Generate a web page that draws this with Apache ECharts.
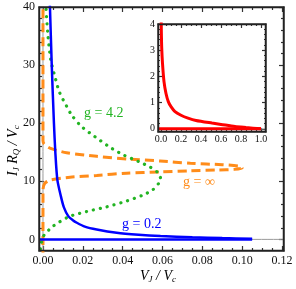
<!DOCTYPE html>
<html><head><meta charset="utf-8">
<script src="https://cdn.jsdelivr.net/npm/echarts@6/dist/echarts.min.js"></script>
<style>html,body{margin:0;padding:0;background:#fff;overflow:hidden}#c{width:296px;height:289px}</style>
</head><body><div id="c"></div>
<script>
// ---- data ----
const xTicks = [0, 0.02, 0.04, 0.06, 0.08, 0.10, 0.12];
const yTicks = [0, 10, 20, 30, 40];
const insetXTicks = [0, 0.2, 0.4, 0.6, 0.8, 1.0];
const insetYTicks = [0, 1, 2, 3, 4];

const blueV = [0.0033,0.0035,0.0044,0.0055,0.0062,0.0072,0.009,0.0105,0.0127,0.015,0.017,0.021,0.027,0.037,0.048,0.059,0.075,0.09,0.105];
const blueI = [42,40,30,20,15,10.3,7.4,5.5,4.0,3.3,2.86,2.2,1.7,1.14,0.8,0.57,0.35,0.22,0.12];
const blueZeroV = [-0.002, 0.105];
const blueZeroI = [0, 0];

const greenV = [0.0012,0.0015,0.0024,0.0039,0.006,0.0082,0.0119,0.0144,0.0194,0.026,0.033,0.040,0.048,0.054,0.058,0.059,0.058,0.055,0.050,0.042,0.032,0.022,0.013,0.0052,0.0002,-0.001,-0.0015];
const greenI = [42,40,35.4,30.9,28,25.4,22.9,21.4,19.4,17.7,16.0,14.6,13.4,12.4,11.4,10.5,9.6,8.5,7.6,6.6,5.6,4.8,3.9,2.3,0.57,-0.9,-2.5];

const orangeV = [0,0,0.0006,0.0035,0.0119,0.027,0.0437,0.0588,0.074,0.09,0.099,0.1,0.096,0.088,0.074,0.0588,0.042,0.027,0.0136,0.0035,0.0008,0,0];
const orangeI = [42,17,16.4,15.7,14.9,14.3,13.8,13.5,13.1,12.85,12.6,12.3,12.05,11.95,11.8,11.6,11.4,11.0,10.7,10.2,9.6,8.5,-2.5];

const redV = [0.0015,0.004,0.007,0.015,0.03,0.05,0.073,0.1,0.14,0.2,0.27,0.35,0.51,0.6,0.74,0.85,1.0];
const redY = [4.2,3.6,3.1,2.5,1.8,1.35,1.04,0.85,0.66,0.52,0.41,0.32,0.22,0.17,0.09,0.05,0.0];
const redZeroV = [-0.03, 1.0];
const redZeroY = [0, 0];

const labels = { g42: 'g = 4.2', ginf: 'g = ∞', g02: 'g = 0.2' };

// ---- helpers ----
const zip = (a, b) => a.map((v, i) => [v, b[i]]);
function minorsOf(majors, n, min, max) {
  const step = (majors[1] - majors[0]) / (n + 1);
  const out = [];
  for (let k = 1; k * step < (max - min) * 2; k++) {}
  const first = Math.ceil((min - majors[0]) / step - 1e-9);
  const last = Math.floor((max - majors[0]) / step + 1e-9);
  for (let k = first; k <= last; k++) {
    const v = +(majors[0] + k * step).toFixed(6);
    const isMajor = majors.some(m => Math.abs(m - v) < step / 10);
    if (!isMajor && v > min && v < max) out.push(v);
  }
  return out;
}
const FONT = 'Liberation Serif';
const TICKC = '#333';
function ax(grid, min, max, pos, vals, len, showLine, label) {
  return {
    type: 'value', gridIndex: grid, min: min, max: max, position: pos,
    splitLine: { show: false },
    axisLine: { show: showLine, onZero: false, lineStyle: { color: TICKC, width: 1.5 } },
    axisTick: { show: true, inside: true, length: len, customValues: vals, lineStyle: { color: TICKC, width: 1.2 } },
    axisLabel: label ? Object.assign({ show: true, customValues: vals, fontFamily: FONT, color: '#111', margin: 4 }, label) : { show: false }
  };
}

const mXmin = -0.002, mXmax = 0.121, mYmin = -2, mYmax = 40;
const iXmin = -0.03, iXmax = 1.05, iYmin = -0.12, iYmax = 4;
const mXminor = minorsOf(xTicks, 3, mXmin, mXmax), mYminor = minorsOf(yTicks, 4, mYmin, mYmax);
const iXminor = minorsOf(insetXTicks, 3, iXmin, iXmax), iYminor = minorsOf(insetYTicks, 4, iYmin, iYmax);

const xAxes = [
  ax(0, mXmin, mXmax, 'bottom', xTicks, 5, true, { fontSize: 12, formatter: v => v.toFixed(2) }),
  ax(0, mXmin, mXmax, 'top', xTicks, 5, true, null),
  ax(1, mXmin, mXmax, 'bottom', mXminor, 3, false, null),
  ax(1, mXmin, mXmax, 'top', mXminor, 3, false, null),
  ax(2, iXmin, iXmax, 'bottom', insetXTicks, 4, true, { fontSize: 10, formatter: v => v.toFixed(1), margin: 2 }),
  ax(2, iXmin, iXmax, 'top', insetXTicks, 4, true, null),
  ax(3, iXmin, iXmax, 'bottom', iXminor, 2, false, null),
  ax(3, iXmin, iXmax, 'top', iXminor, 2, false, null)
];
const yAxes = [
  ax(0, mYmin, mYmax, 'left', yTicks, 5, true, { fontSize: 12, formatter: v => String(v) }),
  ax(0, mYmin, mYmax, 'right', yTicks, 5, true, null),
  ax(1, mYmin, mYmax, 'left', mYminor, 3, false, null),
  ax(1, mYmin, mYmax, 'right', mYminor, 3, false, null),
  ax(2, iYmin, iYmax, 'left', insetYTicks, 4, true, { fontSize: 10, formatter: v => String(v), margin: 3 }),
  ax(2, iYmin, iYmax, 'right', insetYTicks, 4, true, null),
  ax(3, iYmin, iYmax, 'left', iYminor, 2, false, null),
  ax(3, iYmin, iYmax, 'right', iYminor, 2, false, null)
];

const GREEN = '#22b422', ORANGE = '#ff8c1a', BLUE = '#0000ff', RED = '#ff0000';
function ser(data, xi, yi, style, z) {
  return { type: 'line', xAxisIndex: xi, yAxisIndex: yi, data: data, showSymbol: false, symbol: 'none',
    smooth: 0.25, lineStyle: style, z: z || 2, silent: true };
}

const mainRect = { left: 39, top: 7, width: 245, height: 244 };
const insetRect = { left: 158, top: 24, width: 108, height: 108 };
const frameLines = (r, z) => {
  const x0 = r.left + 0.5, y0 = r.top + 0.5, x1 = r.left + r.width - 0.5, y1 = r.top + r.height - 0.5;
  const st = { stroke: '#222', lineWidth: 1.5, lineDash: null };
  return [
    { type: 'polyline', z: z, silent: true, shape: { points: [[x0, y1], [x0, y0], [x1, y0], [x1, y1], [x0, y1]] }, style: st }
  ];
};

const chart = echarts.init(document.getElementById('c'));
chart.setOption({
  animation: false,
  grid: [
    Object.assign({}, mainRect),
    Object.assign({}, mainRect),
    Object.assign({}, insetRect),
    Object.assign({}, insetRect)
  ],
  xAxis: xAxes,
  yAxis: yAxes,
  series: [
    ser([[mXmin, 0], [mXmax, 0]], 0, 0, { color: '#999', width: 1 }, 1),
    ser([[0, mYmin], [0, mYmax]], 0, 0, { color: '#999', width: 1 }, 1),
    ser(zip(orangeV, orangeI), 0, 0, { color: ORANGE, width: 3, type: [9, 5] }, 3),
    ser(zip(greenV, greenI), 0, 0, { color: GREEN, width: 3.2, type: [0.1, 7], cap: 'round' }, 3),
    ser(zip(blueZeroV, blueZeroI), 0, 0, { color: BLUE, width: 2.5 }, 4),
    ser(zip(blueV, blueI), 0, 0, { color: BLUE, width: 2.5 }, 4),
    ser([[iXmin, 0], [iXmax, 0]], 4, 4, { color: '#aaa', width: 1 }, 6),
    ser(zip(redZeroV, redZeroY), 4, 4, { color: RED, width: 3 }, 7),
    ser(zip(redV, redY), 4, 4, { color: RED, width: 3 }, 7)
  ],
  graphic: frameLines(mainRect, 100).concat(frameLines(insetRect, 100)).concat([
    { type: 'text', left: 84, top: 106, z: 10, style: { text: labels.g42, fill: GREEN, font: '14px "Liberation Serif"' } },
    { type: 'text', left: 183, top: 175, z: 10, style: { text: labels.ginf, fill: ORANGE, font: '14px "Liberation Serif"' } },
    { type: 'text', left: 122, top: 217, z: 10, style: { text: labels.g02, fill: BLUE, font: '14px "Liberation Serif"' } },
    { type: 'text', x: 140, y: 268, z: 10,
      style: { text: '{i|V}{s|J}{i| / V}{s|c}', rich: {
        i: { fontFamily: FONT, fontStyle: 'italic', fontSize: 14, color: '#222' },
        s: { fontFamily: FONT, fontStyle: 'italic', fontSize: 9, color: '#222', padding: [7, 0, 0, 0] } } } },
    { type: 'text', x: 5, y: 176, rotation: Math.PI / 2, z: 10,
      style: { text: '{i|I}{s|J}{i| R}{s|Q}{i| / V}{s|c}', rich: {
        i: { fontFamily: FONT, fontStyle: 'italic', fontSize: 14, color: '#222' },
        s: { fontFamily: FONT, fontStyle: 'italic', fontSize: 9, color: '#222', padding: [7, 0, 0, 0] } } } }
  ])
});
</script></body></html>
